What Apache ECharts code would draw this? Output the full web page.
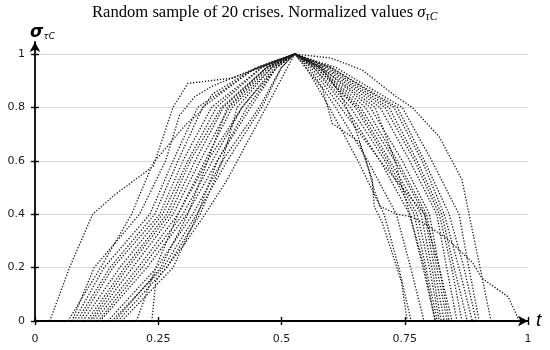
<!DOCTYPE html>
<html><head><meta charset="utf-8">
<script src="https://cdn.jsdelivr.net/npm/echarts@6/dist/echarts.min.js"></script>
<style>html,body{margin:0;padding:0;background:#fff}#c{width:550px;height:350px}</style>
</head><body><div id="c"></div>
<script>
const xTicks = [0, 0.25, 0.5, 0.75, 1];
const yTicks = [0, 0.2, 0.4, 0.6, 0.8, 1];

const crisis01 = [[0.030,0],[0.070,0.2],[0.117,0.4],[0.160,0.47],[0.240,0.58],[0.280,0.80],[0.310,0.89],[0.400,0.91],[0.480,0.97],[0.527,1],[0.600,0.95],[0.735,0.8],[0.790,0.6],[0.840,0.4],[0.870,0.2],[0.895,0]];
const crisis02 = [[0.067,0],[0.133,0.2],[0.196,0.4],[0.239,0.59],[0.280,0.68],[0.308,0.74],[0.334,0.78],[0.360,0.85],[0.430,0.93],[0.527,1],[0.575,0.95],[0.670,0.8],[0.735,0.6],[0.794,0.4],[0.815,0.2],[0.836,0]];
const crisis03 = [[0.075,0],[0.120,0.2],[0.212,0.4],[0.265,0.6],[0.293,0.77],[0.324,0.84],[0.360,0.88],[0.400,0.91],[0.470,0.96],[0.527,1],[0.600,0.985],[0.664,0.94],[0.698,0.89],[0.733,0.84],[0.765,0.80],[0.820,0.69],[0.866,0.53],[0.925,0]];
const crisis04 = [[0.079,0],[0.140,0.2],[0.233,0.4],[0.280,0.6],[0.330,0.8],[0.450,0.95],[0.527,1],[0.550,0.95],[0.597,0.8],[0.655,0.6],[0.708,0.4],[0.738,0.2],[0.763,0]];
const crisis05 = [[0.085,0],[0.152,0.2],[0.243,0.4],[0.290,0.6],[0.340,0.8],[0.440,0.94],[0.527,1],[0.585,0.95],[0.700,0.8],[0.760,0.6],[0.815,0.4],[0.835,0.2],[0.856,0]];
const crisis06 = [[0.091,0],[0.158,0.2],[0.253,0.4],[0.300,0.6],[0.358,0.8],[0.460,0.95],[0.527,1],[0.580,0.95],[0.620,0.85],[0.650,0.72],[0.675,0.58],[0.688,0.49],[0.700,0.43],[0.733,0.40],[0.765,0.39],[0.785,0.37],[0.835,0.31],[0.887,0.22],[0.907,0.16],[0.960,0.09],[0.975,0.03],[0.982,0]];
const crisis07 = [[0.097,0],[0.172,0.2],[0.259,0.4],[0.310,0.6],[0.368,0.8],[0.460,0.95],[0.527,1],[0.565,0.95],[0.640,0.8],[0.710,0.6],[0.769,0.4],[0.793,0.2],[0.816,0]];
const crisis08 = [[0.105,0],[0.182,0.2],[0.267,0.4],[0.315,0.6],[0.378,0.8],[0.470,0.95],[0.527,1],[0.580,0.95],[0.680,0.8],[0.745,0.6],[0.800,0.4],[0.820,0.2],[0.840,0]];
const crisis09 = [[0.111,0],[0.188,0.2],[0.273,0.4],[0.325,0.6],[0.382,0.8],[0.470,0.95],[0.527,1],[0.560,0.95],[0.620,0.8],[0.700,0.6],[0.790,0.4],[0.820,0.2],[0.846,0]];
const crisis10 = [[0.115,0],[0.198,0.2],[0.280,0.4],[0.335,0.6],[0.394,0.8],[0.475,0.95],[0.527,1],[0.595,0.95],[0.718,0.8],[0.775,0.6],[0.825,0.4],[0.850,0.2],[0.877,0]];
const crisis11 = [[0.121,0],[0.209,0.2],[0.290,0.4],[0.345,0.6],[0.400,0.8],[0.480,0.95],[0.527,1],[0.555,0.95],[0.610,0.8],[0.675,0.6],[0.733,0.4],[0.762,0.2],[0.789,0]];
const crisis12 = [[0.128,0],[0.217,0.2],[0.300,0.4],[0.360,0.6],[0.420,0.8],[0.485,0.95],[0.527,1],[0.570,0.95],[0.655,0.8],[0.720,0.6],[0.783,0.4],[0.805,0.2],[0.824,0]];
const crisis13 = [[0.132,0],[0.227,0.2],[0.308,0.4],[0.370,0.6],[0.437,0.8],[0.490,0.95],[0.527,1],[0.600,0.95],[0.728,0.8],[0.785,0.6],[0.830,0.4],[0.860,0.2],[0.887,0]];
const crisis14 = [[0.148,0],[0.247,0.2],[0.320,0.4],[0.380,0.6],[0.455,0.8],[0.500,0.95],[0.527,1],[0.565,0.95],[0.630,0.8],[0.700,0.6],[0.760,0.4],[0.787,0.2],[0.812,0]];
const crisis15 = [[0.156,0],[0.260,0.2],[0.328,0.4],[0.390,0.6],[0.460,0.8],[0.500,0.95],[0.527,1],[0.610,0.95],[0.745,0.8],[0.805,0.6],[0.860,0.4],[0.880,0.2],[0.901,0]];
const crisis16 = [[0.162,0],[0.255,0.2],[0.310,0.4],[0.350,0.6],[0.390,0.8],[0.470,0.95],[0.527,1],[0.570,0.95],[0.650,0.8],[0.715,0.6],[0.775,0.4],[0.800,0.2],[0.820,0]];
const crisis17 = [[0.168,0],[0.267,0.2],[0.335,0.4],[0.380,0.6],[0.410,0.8],[0.480,0.95],[0.527,1],[0.580,0.95],[0.690,0.8],[0.730,0.6],[0.760,0.4],[0.790,0.2],[0.812,0]];
const crisis18 = [[0.176,0],[0.280,0.2],[0.330,0.4],[0.370,0.6],[0.430,0.8],[0.490,0.95],[0.527,1],[0.575,0.95],[0.660,0.8],[0.730,0.6],[0.790,0.4],[0.810,0.2],[0.830,0]];
const crisis19 = [[0.206,0],[0.245,0.2],[0.290,0.4],[0.350,0.6],[0.420,0.8],[0.490,0.95],[0.527,1],[0.590,0.95],[0.710,0.8],[0.770,0.6],[0.820,0.4],[0.845,0.2],[0.866,0]];
const crisis20 = [[0.237,0],[0.245,0.15],[0.300,0.28],[0.345,0.40],[0.390,0.53],[0.527,1],[0.583,0.87],[0.603,0.74],[0.658,0.67],[0.684,0.53],[0.688,0.43],[0.704,0.37],[0.743,0.15],[0.755,0]];

const crises = [crisis01,crisis02,crisis03,crisis04,crisis05,crisis06,crisis07,crisis08,crisis09,crisis10,
                crisis11,crisis12,crisis13,crisis14,crisis15,crisis16,crisis17,crisis18,crisis19,crisis20];

const chart = echarts.init(document.getElementById('c'), null, {renderer: 'canvas'});
const tickFont = {fontFamily: 'DejaVu Sans', fontSize: 11, color: '#1a1a1a'};
const option = {
  animation: false,
  backgroundColor: '#fff',
  title: {
    text: '{n|Random sample of 20 crises. Normalized values }{s|σ}{sub|τC}',
    left: 92, top: 3, padding: 0,
    textStyle: {
      fontWeight: 'normal',
      rich: {
        n: {fontFamily: 'Liberation Serif', fontSize: 16.6, fontWeight: 'normal', color: '#000', lineHeight: 20},
        s: {fontFamily: 'Liberation Serif', fontSize: 16.6, fontWeight: 'normal', fontStyle: 'italic', color: '#000', lineHeight: 20},
        sub: {fontFamily: 'Liberation Serif', fontSize: 11.5, fontWeight: 'normal', fontStyle: 'italic', color: '#000', verticalAlign: 'bottom', lineHeight: 12}
      }
    }
  },
  grid: {left: 35, right: 22, top: 42, bottom: 29, containLabel: false},
  xAxis: [
    {
      type: 'value', min: 0, max: 1, interval: 0.25, position: 'bottom',
      name: 't', nameLocation: 'end', nameGap: 8,
      nameTextStyle: {fontFamily: 'Liberation Sans', fontStyle: 'italic', fontSize: 19, color: '#000', padding: [14, 0, 0, 0]},
      axisLine: {show: true, onZero: false, lineStyle: {color: '#000', width: 1.8}, symbol: ['none', 'arrow'], symbolSize: [8, 10]},
      axisTick: {show: true, length: 4, lineStyle: {color: '#000', width: 1.4}},
      axisLabel: Object.assign({margin: 13}, tickFont),
      splitLine: {show: false}
    },
    {
      type: 'value', min: 0, max: 1, interval: 0.25, position: 'bottom',
      axisLine: {show: false, onZero: false},
      axisTick: {show: true, inside: true, length: 4, lineStyle: {color: '#000', width: 1.4}},
      axisLabel: {show: false}, splitLine: {show: false}
    }
  ],
  yAxis: [
    {
      type: 'value', min: 0, max: 1.045, position: 'left',
      name: '{s|σ}{sub|τC}', nameLocation: 'end', nameGap: 1,
      nameTextStyle: {
        align: 'left', padding: [0, 0, 0, -5],
        rich: {
          s: {fontFamily: 'DejaVu Sans', fontSize: 17, fontStyle: 'italic', fontWeight: 'bold', color: '#000', verticalAlign: 'bottom', lineHeight: 18},
          sub: {fontFamily: 'DejaVu Sans', fontSize: 9, fontStyle: 'italic', color: '#000', verticalAlign: 'bottom', lineHeight: 14}
        }
      },
      axisLine: {show: true, lineStyle: {color: '#000', width: 1.8}, symbol: ['none', 'arrow'], symbolSize: [8, 10]},
      axisTick: {show: true, length: 4, customValues: yTicks, lineStyle: {color: '#000', width: 1.4}},
      axisLabel: Object.assign({margin: 10, customValues: yTicks}, tickFont),
      splitLine: {show: true, lineStyle: {color: '#d9d9d9', width: 1}}
    },
    {
      type: 'value', min: 0, max: 1.045, position: 'left',
      axisLine: {show: false},
      axisTick: {show: true, inside: true, length: 4, customValues: yTicks, lineStyle: {color: '#000', width: 1.4}},
      axisLabel: {show: false, customValues: yTicks}, splitLine: {show: false}
    }
  ],
  series: crises.map((d, i) => ({
    type: 'line', name: 'crisis ' + (i + 1), data: d,
    xAxisIndex: 0, yAxisIndex: 0,
    showSymbol: false, symbol: 'none', silent: true, z: 3,
    lineStyle: {color: '#1a1a1a', width: 1.3, type: [1.3, 1.7]}
  }))
};
chart.setOption(option);
</script>
</body></html>
